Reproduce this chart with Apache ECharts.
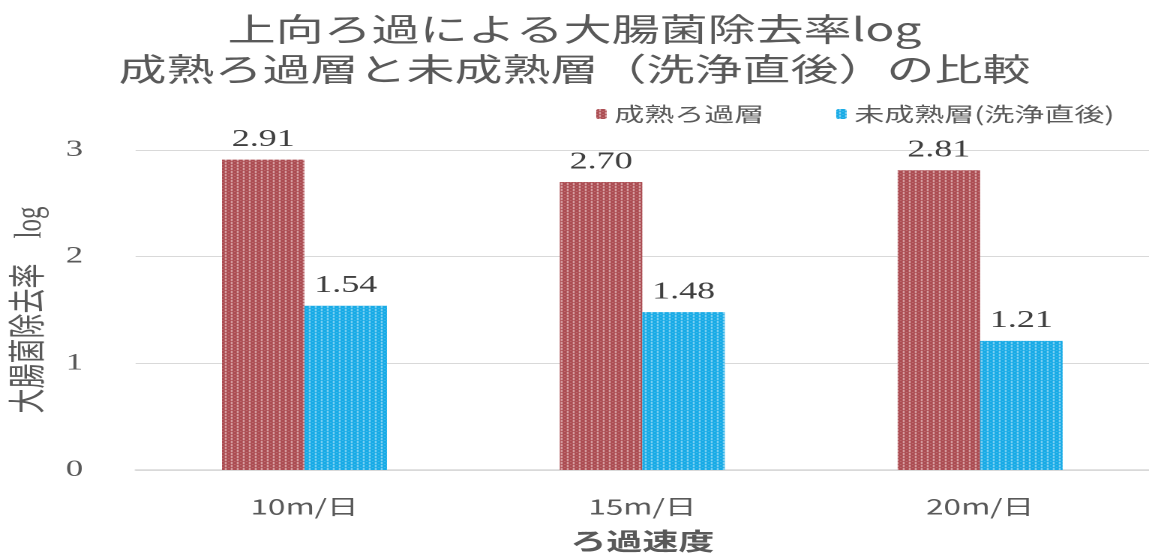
<!DOCTYPE html>
<html>
<head>
<meta charset="utf-8">
<script src="https://cdn.jsdelivr.net/npm/echarts@6/dist/echarts.min.js"></script>
<style>
html,body{margin:0;padding:0;overflow:hidden;background:#fff;width:1149px;height:558px;}
#wrap{width:1149px;height:558px;overflow:hidden;}
#chart{width:766px;height:558px;transform:scaleX(1.5);transform-origin:0 0;}
</style>
</head>
<body>
<div id="wrap"><div id="chart"></div></div>
<script>
// ---- data ----
const titleLines = ['上向ろ過による大腸菌除去率log', '成熟ろ過層と未成熟層（洗浄直後）の比較'];
const categories = ['10m/日', '15m/日', '20m/日'];
const seriesNames = ['成熟ろ過層', '未成熟層(洗浄直後)'];
const matureValues = [2.91, 2.70, 2.81];
const immatureValues = [1.54, 1.48, 1.21];
const yAxisName = '大腸菌除去率　log';
const xAxisName = 'ろ過速度';

// ---- striped fill patterns ----
function stripe(base, light, mid) {
  const c = document.createElement('canvas');
  c.width = 4; c.height = 3;
  const ctx = c.getContext('2d');
  ctx.fillStyle = base; ctx.fillRect(0, 0, 4, 3);
  ctx.fillStyle = light; ctx.fillRect(2, 0, 1, 2);
  ctx.fillStyle = mid; ctx.fillRect(0, 2, 1, 1);
  return { image: c, repeat: 'repeat' };
}
const redFill = stripe('#a9484e', '#eec9ca', '#c98588');
const blueFill = stripe('#12a9e6', '#aee2f8', '#5cc4ee');

const chart = echarts.init(document.getElementById('chart'), null, { renderer: 'canvas', devicePixelRatio: 2 });
const serifFont = '"Liberation Serif", "DejaVu Serif", "Noto Sans CJK JP", serif';
const sansFont = '"Noto Sans CJK JP", "Noto Sans", sans-serif';

chart.setOption({
  animation: false,
  backgroundColor: '#fff',
  title: {
    text: titleLines.join('\n'),
    left: 'center',
    top: 4,
    textStyle: { fontFamily: sansFont, fontSize: 32, fontWeight: 'normal', color: '#595959', lineHeight: 40 }
  },
  legend: {
    data: seriesNames,
    right: 18,
    top: 99,
    itemWidth: 7,
    itemHeight: 10,
    itemGap: 48,
    textStyle: { fontFamily: sansFont, fontSize: 20, color: '#595959' }
  },
  grid: { left: 88, right: 0, top: 150, bottom: 76, containLabel: false },
  xAxis: {
    type: 'category',
    data: categories,
    name: xAxisName,
    nameLocation: 'middle',
    nameGap: 59,
    nameTextStyle: { fontFamily: sansFont, fontSize: 24, fontWeight: 'bold', color: '#595959' },
    axisLine: { lineStyle: { color: '#d9d9d9', width: 1.5 } },
    axisTick: { show: false },
    axisLabel: { fontFamily: sansFont, fontSize: 21, color: '#595959', margin: 26 }
  },
  yAxis: {
    type: 'value',
    min: 0, max: 3, interval: 1,
    name: yAxisName,
    nameLocation: 'middle',
    nameGap: 50,
    nameTextStyle: { fontFamily: serifFont, fontSize: 25, color: '#595959' },
    axisLine: { show: false },
    axisTick: { show: false },
    axisLabel: { fontFamily: serifFont, fontSize: 23, color: '#595959', margin: 35 },
    splitLine: { lineStyle: { color: '#d9d9d9', width: 1 } }
  },
  series: [
    {
      name: seriesNames[0], type: 'bar', data: matureValues,
      barWidth: 55, barGap: '0%',
      itemStyle: { color: redFill },
      label: { show: true, position: 'top', distance: 8, fontFamily: serifFont, fontSize: 24, color: '#404040',
               formatter: p => p.value.toFixed(2) }
    },
    {
      name: seriesNames[1], type: 'bar', data: immatureValues,
      barWidth: 55, barGap: '0%',
      itemStyle: { color: blueFill },
      label: { show: true, position: 'top', distance: 8, fontFamily: serifFont, fontSize: 24, color: '#404040',
               formatter: p => p.value.toFixed(2) }
    }
  ]
});
</script>
</body>
</html>
